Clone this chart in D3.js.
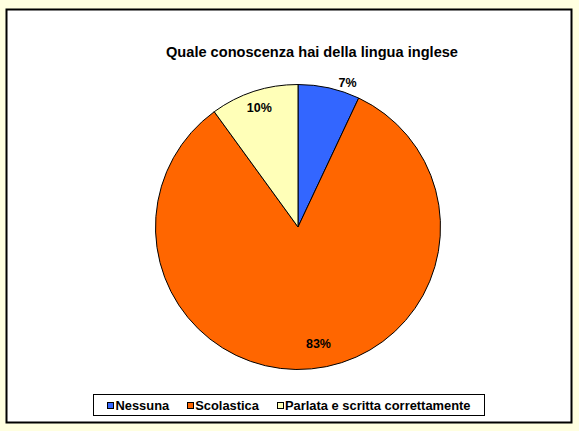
<!DOCTYPE html>
<html>
<head>
<meta charset="utf-8">
<script src="https://cdn.jsdelivr.net/npm/d3@7"></script>
<style>
  html, body { margin: 0; padding: 0; background: #FFFFE0; }
  svg { display: block; font-family: "Liberation Sans", Arial, sans-serif; }
</style>
</head>
<body>
<svg id="chart" width="579" height="431"></svg>
<script>
// Data
const categories = ["Nessuna", "Scolastica", "Parlata e scritta correttamente"];
const values = [7, 83, 10];
const labels = ["7%", "83%", "10%"];
const colors = ["#3366FF", "#FF6600", "#FFFFB8"];
const title = "Quale conoscenza hai della lingua inglese";

const svg = d3.select("#chart");

// chart area frame
svg.append("rect")
    .attr("x", 6.5).attr("y", 9.5)
    .attr("width", 565).attr("height", 413)
    .attr("fill", "#fff")
    .attr("stroke", "#000")
    .attr("stroke-width", 2);

svg.append("text")
    .attr("x", 312)
    .attr("y", 57)
    .attr("text-anchor", "middle")
    .attr("font-size", 14.6)
    .attr("font-weight", "bold")
    .text(title);

const cx = 298, cy = 227, r = 142.5;
const data = categories.map((c, i) => ({ name: c, value: values[i], label: labels[i], color: colors[i] }));

const pie = d3.pie().sort(null).value(d => d.value);
const arc = d3.arc().innerRadius(0).outerRadius(r);
const arcs = pie(data);

const g = svg.append("g").attr("transform", `translate(${cx},${cy})`);

g.selectAll("path")
    .data(arcs)
    .enter()
    .append("path")
    .attr("d", arc)
    .attr("fill", d => d.data.color)
    .attr("stroke", "#000")
    .attr("stroke-width", 1);

// label radius and angle nudge per slice (small slice label sits just outside)
const labelRadius = [153, 118, 125];
const angleShift = [0.11, -0.08, 0];
g.selectAll("text.lbl")
    .data(arcs)
    .enter()
    .append("text")
    .attr("class", "lbl")
    .attr("transform", (d, i) => {
        const a = (d.startAngle + d.endAngle) / 2 + angleShift[i];
        const rr = labelRadius[i];
        return `translate(${Math.sin(a) * rr},${-Math.cos(a) * rr})`;
    })
    .attr("text-anchor", "middle")
    .attr("dy", "0.35em")
    .attr("font-size", 12.5)
    .attr("font-weight", "bold")
    .text(d => d.data.label);

// legend
const legend = svg.append("g");
legend.append("rect")
    .attr("x", 93.5).attr("y", 394.5)
    .attr("width", 391).attr("height", 21)
    .attr("fill", "#fff")
    .attr("stroke", "#000")
    .attr("stroke-width", 1);

const items = legend.selectAll("g.item")
    .data(data)
    .enter()
    .append("g")
    .attr("class", "item");

items.append("rect")
    .attr("width", 6).attr("height", 6)
    .attr("y", 402.5)
    .attr("fill", d => d.color)
    .attr("stroke", "#000")
    .attr("stroke-width", 1);

items.append("text")
    .attr("y", 410)
    .attr("font-size", 12.9)
    .attr("font-weight", "bold")
    .text(d => d.name);

// lay out sequentially, centred in the box
const gap = 18, sw = 8;
let widths = [];
items.select("text").each(function () { widths.push(this.getComputedTextLength()); });
const total = d3.sum(widths) + sw * widths.length + gap * (widths.length - 1);
let xPos = 93.5 + (391 - total) / 2;
items.each(function (d, i) {
    const it = d3.select(this);
    it.select("rect").attr("x", Math.round(xPos) + 0.5);
    it.select("text").attr("x", xPos + sw);
    xPos += sw + widths[i] + gap;
});
</script>
</body>
</html>
